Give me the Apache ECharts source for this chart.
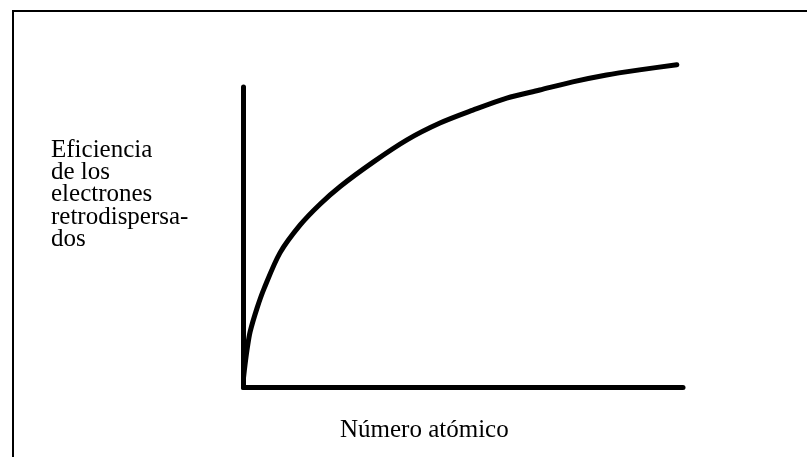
<!DOCTYPE html>
<html>
<head>
<meta charset="utf-8">
<script src="https://cdn.jsdelivr.net/npm/echarts@6/dist/echarts.min.js"></script>
<style>
  html, body { margin: 0; padding: 0; background: #fff; }
  #chart { width: 807px; height: 457px; }
</style>
</head>
<body>
<div id="chart"></div>
<script>
// Atomic number (relative scale, 0-100)
const atomicNumber = [0, 0.34, 0.8, 1.5, 3.1, 4.7, 8.3, 12.9, 17.4, 22.0, 29.5, 37.2, 44.7, 52.2, 59.9, 67.4, 74.9, 82.6, 90.1, 98.6];
// Backscattered electron efficiency (relative scale)
const efficiency = [3.2, 7.5, 12.5, 18.5, 26.5, 33.0, 44.8, 54.1, 61.0, 66.9, 75.0, 82.4, 88.0, 92.3, 96.3, 99.0, 101.7, 104.0, 105.7, 107.4];

const yAxisLabel = 'Eficiencia\nde los\nelectrones\nretrodispersa-\ndos';
const xAxisLabel = 'Número atómico';

const chart = echarts.init(document.getElementById('chart'), null, { renderer: 'canvas' });

const serif = '"Liberation Serif", "DejaVu Serif", serif';
const labelStyle = { fontFamily: serif, fontSize: 25, fontWeight: 'normal', color: '#000', lineHeight: 22.3 };

chart.setOption({
  backgroundColor: '#ffffff',
  animation: false,
  title: [
    { text: yAxisLabel, left: 51, top: 139, padding: 0, textStyle: labelStyle },
    { text: xAxisLabel, left: 340, top: 419, padding: 0, textStyle: labelStyle }
  ],
  graphic: [
    {
      type: 'polyline',
      shape: { points: [[13, 457], [13, 11], [807, 11]] },
      style: { stroke: '#000', lineWidth: 2, fill: null }
    }
  ],
  grid: { left: 243.5, right: 124, top: 87, bottom: 69.5, containLabel: false },
  xAxis: {
    type: 'value', min: 0, max: 100,
    axisLine: { show: true, onZero: false, lineStyle: { color: '#000', width: 5 } },
    axisTick: { show: false }, axisLabel: { show: false }, splitLine: { show: false }
  },
  yAxis: {
    type: 'value', min: 0, max: 100,
    axisLine: { show: true, onZero: false, lineStyle: { color: '#000', width: 5 } },
    axisTick: { show: false }, axisLabel: { show: false }, splitLine: { show: false }
  },
  series: [
    {
      type: 'line',
      data: atomicNumber.map((x, i) => [x, efficiency[i]]),
      smooth: 0.3,
      clip: false,
      symbol: 'none',
      lineStyle: { color: '#000', width: 5, cap: 'round', join: 'round' }
    }
  ]
});
</script>
</body>
</html>
